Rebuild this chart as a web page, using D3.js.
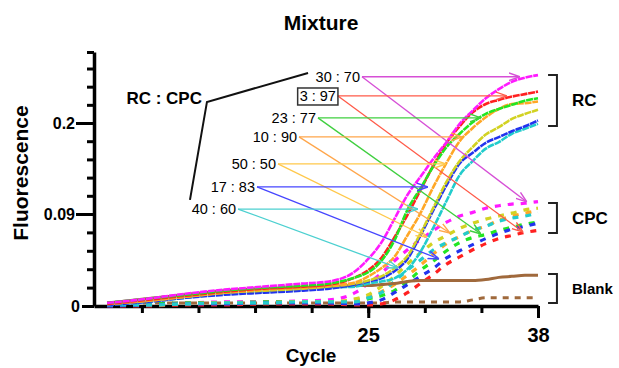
<!DOCTYPE html>
<html>
<head>
<meta charset="utf-8">
<script src="https://cdn.jsdelivr.net/npm/d3@7"></script>
<style>
  body { margin: 0; background: #fff; }
  svg { display: block; font-family: "Liberation Sans", Arial, sans-serif; }
</style>
</head>
<body>
<div id="chart"></div>
<script>
const cycles = [5, 8, 11, 14, 17, 20, 22, 24, 25, 26, 27, 28, 29, 30, 31, 32, 33, 34, 35, 36, 37, 38];

const ratios = ["30 : 70", "3 : 97", "23 : 77", "10 : 90", "50 : 50", "17 : 83", "40 : 60"];

// RC curves (solid)
const rc_30_70 = [0.003, 0.007, 0.012, 0.016, 0.019, 0.022, 0.024, 0.034, 0.046, 0.062, 0.085, 0.113, 0.135, 0.157, 0.177, 0.199, 0.215, 0.230, 0.241, 0.250, 0.255, 0.258];
const rc_3_97  = [0.002, 0.006, 0.010, 0.014, 0.017, 0.019, 0.021, 0.028, 0.035, 0.047, 0.067, 0.089, 0.119, 0.149, 0.176, 0.196, 0.213, 0.223, 0.228, 0.232, 0.235, 0.238];
const rc_23_77 = [0.003, 0.007, 0.011, 0.015, 0.018, 0.020, 0.022, 0.028, 0.033, 0.044, 0.064, 0.095, 0.121, 0.148, 0.171, 0.187, 0.201, 0.211, 0.217, 0.222, 0.227, 0.230];
const rc_10_90 = [0.002, 0.005, 0.009, 0.013, 0.016, 0.018, 0.020, 0.023, 0.029, 0.037, 0.048, 0.069, 0.091, 0.123, 0.152, 0.178, 0.194, 0.207, 0.217, 0.223, 0.224, 0.226];
const rc_50_50 = [0.002, 0.005, 0.009, 0.013, 0.015, 0.017, 0.019, 0.022, 0.025, 0.029, 0.037, 0.049, 0.071, 0.098, 0.129, 0.154, 0.171, 0.186, 0.195, 0.205, 0.211, 0.216];
const rc_17_83 = [0.001, 0.004, 0.008, 0.011, 0.013, 0.015, 0.017, 0.021, 0.024, 0.027, 0.034, 0.046, 0.069, 0.095, 0.125, 0.151, 0.164, 0.176, 0.183, 0.190, 0.196, 0.203];
const rc_40_60 = [0.001, 0.004, 0.008, 0.012, 0.014, 0.016, 0.018, 0.019, 0.022, 0.024, 0.027, 0.036, 0.053, 0.077, 0.106, 0.137, 0.154, 0.169, 0.177, 0.187, 0.193, 0.199];

// CPC curves (dashed)
const cpc_30_70 = [0.001, 0.002, 0.003, 0.004, 0.004, 0.005, 0.006, 0.013, 0.022, 0.032, 0.044, 0.055, 0.065, 0.074, 0.082, 0.088, 0.092, 0.097, 0.100, 0.102, 0.103, 0.105];
const cpc_3_97  = [0.000, 0.000, 0.001, 0.001, 0.002, 0.002, 0.002, 0.001, 0.001, 0.002, 0.006, 0.013, 0.022, 0.031, 0.041, 0.048, 0.055, 0.061, 0.066, 0.069, 0.072, 0.074];
const cpc_23_77 = [0.001, 0.002, 0.003, 0.003, 0.004, 0.004, 0.004, 0.004, 0.007, 0.010, 0.015, 0.024, 0.035, 0.044, 0.054, 0.062, 0.067, 0.070, 0.074, 0.077, 0.080, 0.082];
const cpc_10_90 = [0.001, 0.001, 0.002, 0.003, 0.003, 0.004, 0.004, 0.006, 0.009, 0.014, 0.021, 0.030, 0.040, 0.051, 0.061, 0.068, 0.074, 0.078, 0.084, 0.088, 0.091, 0.094];
const cpc_50_50 = [0.001, 0.001, 0.002, 0.003, 0.003, 0.004, 0.004, 0.007, 0.011, 0.019, 0.029, 0.041, 0.052, 0.062, 0.069, 0.076, 0.081, 0.085, 0.088, 0.091, 0.095, 0.097];
const cpc_17_83 = [0.000, 0.001, 0.002, 0.002, 0.003, 0.003, 0.003, 0.002, 0.003, 0.006, 0.013, 0.021, 0.029, 0.037, 0.047, 0.054, 0.060, 0.066, 0.071, 0.075, 0.078, 0.081];
const cpc_40_60 = [0.001, 0.001, 0.002, 0.003, 0.003, 0.004, 0.004, 0.004, 0.008, 0.013, 0.024, 0.035, 0.045, 0.055, 0.062, 0.068, 0.074, 0.078, 0.083, 0.086, 0.088, 0.091];

// blanks
const blankSolid  = [0.003, 0.007, 0.011, 0.015, 0.017, 0.018, 0.019, 0.020, 0.020, 0.021, 0.022, 0.024, 0.025, 0.025, 0.025, 0.025, 0.025, 0.026, 0.028, 0.029, 0.030, 0.030];
const blankDashed = [0.003, 0.003, 0.003, 0.003, 0.003, 0.003, 0.003, 0.003, 0.003, 0.003, 0.004, 0.004, 0.004, 0.004, 0.004, 0.004, 0.006, 0.008, 0.008, 0.008, 0.008, 0.008];

const yTickLabels = [0, 0.09, 0.2];
const yMinorTicks = [0, 0.018, 0.036, 0.054, 0.072, 0.09, 0.112, 0.134, 0.156, 0.178, 0.2, 0.222, 0.244, 0.266, 0.286];
const xTickLabels = [25, 38];
const xMinorTicks = [7.667, 12, 16.333, 20.667, 25, 29.333, 33.667, 38];

const rcSeries  = [rc_30_70, rc_3_97, rc_23_77, rc_10_90, rc_50_50, rc_17_83, rc_40_60];
const cpcSeries = [cpc_30_70, cpc_3_97, cpc_23_77, cpc_10_90, cpc_50_50, cpc_17_83, cpc_40_60];

const curveColors = ["#ff1aff", "#ff2020", "#22e622", "#ffa726", "#d2d222", "#2233ee", "#22cccc"];
const arrowColors = ["#d64fd6", "#ff5a48", "#3fcf3f", "#ffa64a", "#ffc84a", "#4646ff", "#4cd0d0"];

const width = 619, height = 368;

const x = d3.scaleLinear().domain([4, 38]).range([94, 538]);
// axis of the original is not linear: 0, 0.09 and 0.2 sit at equal steps
const y = d3.scaleLinear().domain([0, 0.09, 0.2, 0.286]).range([306, 214, 123, 52]);

const svg = d3.select("#chart").append("svg")
  .attr("width", width)
  .attr("height", height);

const defs = svg.append("defs");
arrowColors.forEach((c, i) => {
  defs.append("marker")
    .attr("id", "arrow" + i)
    .attr("viewBox", "0 0 10 10")
    .attr("refX", 10).attr("refY", 5)
    .attr("markerWidth", 11).attr("markerHeight", 11)
    .attr("markerUnits", "userSpaceOnUse")
    .attr("orient", "auto")
    .append("path")
    .attr("d", "M0,1.5 L10,5 L0,8.5")
    .attr("fill", "none")
    .attr("stroke", c)
    .attr("stroke-width", 1.3);
});

const line = d3.line()
  .x((d, i) => x(cycles[i]))
  .y(d => y(d))
  .curve(d3.curveMonotoneX);

// title
svg.append("text")
  .attr("x", 321).attr("y", 30)
  .attr("text-anchor", "middle")
  .style("font-size", "21px").style("font-weight", "bold")
  .text("Mixture");

// axes
const xAxisG = svg.append("g").attr("transform", "translate(0,306)");
xAxisG.call(d3.axisBottom(x).tickValues(xMinorTicks).tickSize(7).tickSizeOuter(0).tickFormat(""));
xAxisG.select(".domain").attr("stroke-width", 3.5);
xAxisG.selectAll(".tick line").attr("stroke-width", 3);

const xMajor = svg.append("g").attr("transform", "translate(0,306)")
  .call(d3.axisBottom(x).tickValues(xTickLabels).tickSize(12).tickFormat(d3.format("d")));
xMajor.select(".domain").remove();
xMajor.selectAll(".tick line").attr("stroke-width", 3);
xMajor.selectAll(".tick text")
  .attr("y", 36).attr("dy", 0)
  .style("font-size", "20px").style("font-weight", "bold").style("font-family", "Liberation Sans, Arial, sans-serif")
  .attr("fill", "#000");

const yAxisG = svg.append("g").attr("transform", "translate(94,0)");
yAxisG.call(d3.axisLeft(y).tickValues(yMinorTicks).tickSize(7).tickSizeOuter(0).tickFormat(""));
yAxisG.select(".domain").attr("stroke-width", 3.5);
yAxisG.selectAll(".tick line").attr("stroke-width", 3);

const yMajor = svg.append("g").attr("transform", "translate(94,0)")
  .call(d3.axisLeft(y).tickValues(yTickLabels).tickSize(18).tickFormat(d => d === 0 ? "0" : String(d)));
yMajor.select(".domain").remove();
yMajor.selectAll(".tick line").attr("stroke-width", 3)
  .attr("x2", d => d === 0 ? -12 : -18);
yMajor.selectAll(".tick text")
  .attr("x", d => d === 0 ? -14 : -19)
  .style("font-size", "16px").style("font-weight", "bold").style("font-family", "Liberation Sans, Arial, sans-serif")
  .attr("fill", "#000");

svg.append("text")
  .attr("transform", "translate(28,173) rotate(-90)")
  .attr("text-anchor", "middle")
  .style("font-size", "21px").style("font-weight", "bold")
  .text("Fluorescence");

svg.append("text")
  .attr("x", 311).attr("y", 362)
  .attr("text-anchor", "middle")
  .style("font-size", "19px").style("font-weight", "bold")
  .text("Cycle");

// curves
const plot = svg.append("g");

plot.append("path")
  .attr("d", line(blankDashed))
  .attr("fill", "none").attr("stroke", "#a0693c")
  .attr("stroke-width", 3).attr("stroke-dasharray", "6,6");

cpcSeries.forEach((s, i) => {
  plot.append("path")
    .attr("d", line(s))
    .attr("fill", "none")
    .attr("stroke", curveColors[i])
    .attr("stroke-width", 3.2)
    .attr("stroke-dasharray", "6,7");
});

plot.append("path")
  .attr("d", line(blankSolid))
  .attr("fill", "none").attr("stroke", "#a0693c")
  .attr("stroke-width", 3);

[6, 5, 4, 3, 1, 2, 0].forEach(i => {
  plot.append("path")
    .attr("d", line(rcSeries[i]))
    .attr("fill", "none")
    .attr("stroke", curveColors[i])
    .attr("stroke-width", 2.6)
    .attr("stroke-dasharray", "7,0.8");
});

// label arrows, points in data units: label end, RC target, CPC target
const notes = [
  { start: [24.52, 0.256],  rc: [36.62, 0.256],  cpc: [37.15, 0.1045] },
  { start: [22.68, 0.2328], rc: [35.62, 0.2328], cpc: [36.85, 0.0724] },
  { start: [21.15, 0.2062], rc: [33.63, 0.2062], cpc: [33.63, 0.0704] },
  { start: [19.70, 0.1832], rc: [32.18, 0.1832], cpc: [31.26, 0.0714] },
  { start: [18.09, 0.1505], rc: [30.95, 0.1505], cpc: [29.50, 0.0675] },
  { start: [16.48, 0.1227], rc: [29.57, 0.1227], cpc: [30.42, 0.046] },
  { start: [15.03, 0.096],  rc: [28.81, 0.096],  cpc: [27.28, 0.0372] }
];

const ann = svg.append("g");
notes.forEach((n, i) => {
  const sx = x(n.start[0]), sy = y(n.start[1]);
  [n.rc, n.cpc].forEach(t => {
    ann.append("line")
      .attr("x1", sx).attr("y1", sy)
      .attr("x2", x(t[0])).attr("y2", y(t[1]))
      .attr("stroke", arrowColors[i])
      .attr("stroke-width", 1.3)
      .attr("marker-end", "url(#arrow" + i + ")");
  });
  const label = ann.append("text")
    .attr("x", sx - 2).attr("y", sy)
    .attr("dy", "0.35em")
    .attr("text-anchor", "end")
    .attr("fill", "#000")
    .style("font-size", "14.5px")
    .text(ratios[i]);
  if (ratios[i] === "3 : 97") {
    const b = label.node().getBBox();
    ann.append("rect")
      .attr("x", b.x - 2).attr("y", b.y)
      .attr("width", b.width + 4).attr("height", b.height + 1)
      .attr("fill", "none").attr("stroke", "#333").attr("stroke-width", 1.5);
  }
});

// RC : CPC pointer
const pointer = [[20.39, 0.2606], [12.65, 0.2255], [11.35, 0.107]];
ann.append("path")
  .attr("d", d3.line().x(d => x(d[0])).y(d => y(d[1]))(pointer))
  .attr("fill", "none").attr("stroke", "#111").attr("stroke-width", 2);
ann.append("text")
  .attr("x", x(pointer[1][0]) - 5).attr("y", y(pointer[1][1]) - 4)
  .attr("dy", "0.35em")
  .attr("text-anchor", "end")
  .style("font-size", "17px").style("font-weight", "bold")
  .text("RC : CPC");

// group brackets
const groups = [
  { name: "RC", top: 0.258, bottom: 0.1964, size: 17 },
  { name: "CPC", top: 0.1033, bottom: 0.0714, size: 17 },
  { name: "Blank", top: 0.0313, bottom: 0.0029, size: 15 }
];
const bx = x(39.45), bl = x(38.77);
groups.forEach(g => {
  const t = y(g.top), b = y(g.bottom);
  ann.append("path")
    .attr("d", "M" + bl + "," + t + "H" + bx + "V" + b + "H" + bl)
    .attr("fill", "none").attr("stroke", "#222").attr("stroke-width", 2);
  ann.append("text")
    .attr("x", bx + 15).attr("y", (t + b) / 2)
    .attr("dy", "0.35em")
    .style("font-size", g.size + "px").style("font-weight", "bold")
    .text(g.name);
});
</script>
</body>
</html>
